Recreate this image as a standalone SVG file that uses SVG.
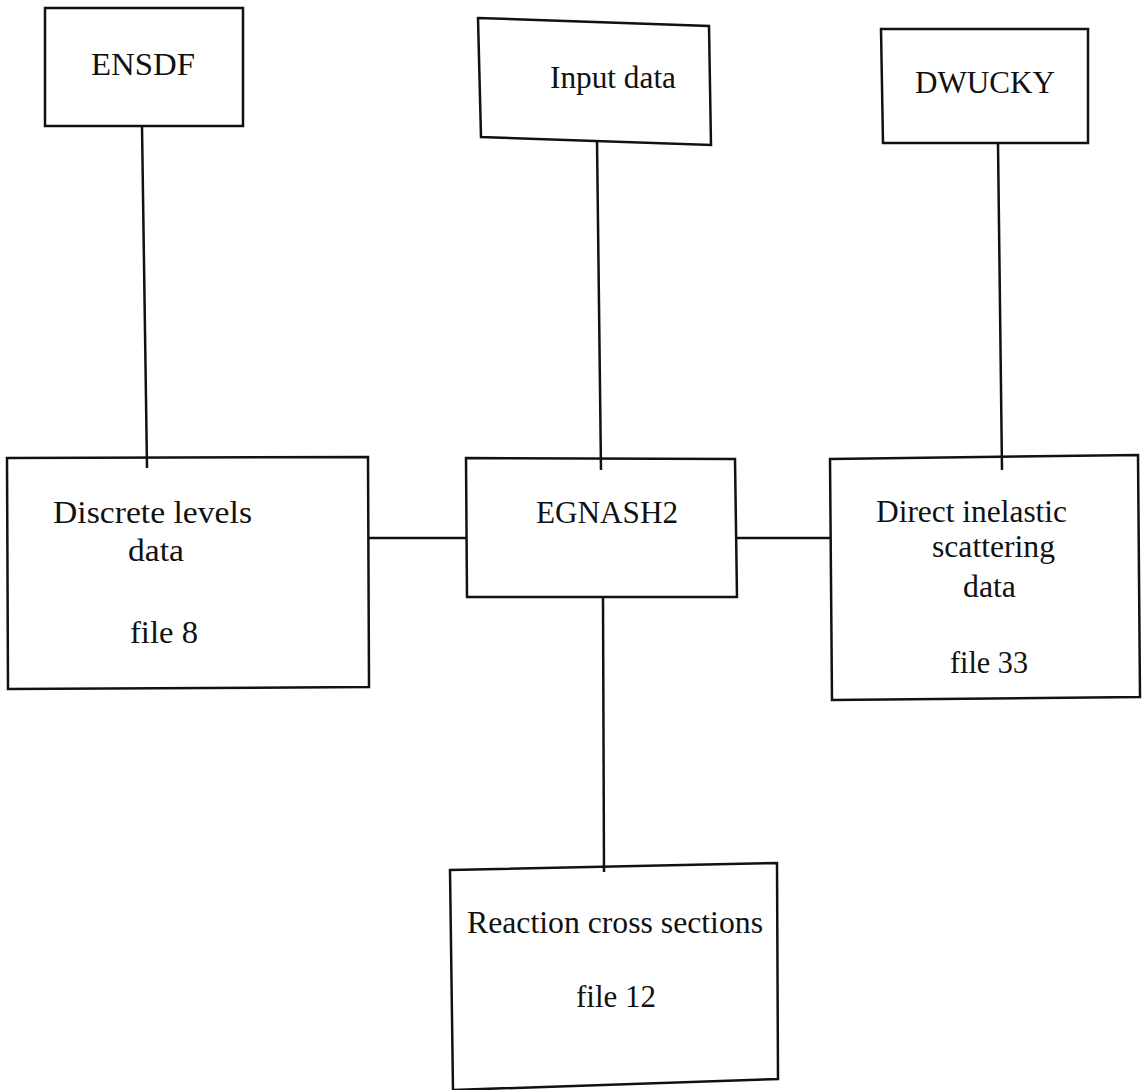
<svg xmlns="http://www.w3.org/2000/svg" width="1148" height="1090" viewBox="0 0 1148 1090">
<style>
.box{fill:none;stroke:#111;stroke-width:2.5;stroke-linejoin:miter}
.ln{fill:none;stroke:#111;stroke-width:2.5}
text{font-family:"Liberation Serif","Times New Roman",serif;font-size:31px;fill:#111}
</style>
<rect width="1148" height="1090" fill="#fff"/>
<g id="connectors">
<line class="ln" x1="142" y1="126" x2="147" y2="468"/>
<line class="ln" x1="597" y1="140" x2="601" y2="470"/>
<line class="ln" x1="998" y1="143" x2="1002" y2="470"/>
<line class="ln" x1="368" y1="538" x2="466" y2="538"/>
<line class="ln" x1="737" y1="538" x2="830" y2="538"/>
<line class="ln" x1="603" y1="597" x2="604" y2="872"/>
</g>
<g id="ensdf">
<polygon class="box" points="45,8 243,8 243,126 45,126"/>
<text x="91" y="75" textLength="104" lengthAdjust="spacingAndGlyphs">ENSDF</text>
</g>
<g id="input-data">
<polygon class="box" points="478,18 709,26 711,145 481,137"/>
<text x="550" y="88" textLength="126" lengthAdjust="spacingAndGlyphs">Input data</text>
</g>
<g id="dwucky">
<polygon class="box" points="881,29 1088,29 1088,143 883,143"/>
<text x="915" y="93" textLength="140" lengthAdjust="spacingAndGlyphs">DWUCKY</text>
</g>
<g id="discrete-levels">
<polygon class="box" points="7,458 368,457 369,687 8,689"/>
<text x="53" y="523" textLength="199" lengthAdjust="spacingAndGlyphs">Discrete levels</text>
<text x="128" y="561" textLength="56" lengthAdjust="spacingAndGlyphs">data</text>
<text x="130" y="643" textLength="68" lengthAdjust="spacingAndGlyphs">file 8</text>
</g>
<g id="egnash2">
<polygon class="box" points="466,458 735,459 737,597 467,597"/>
<text x="536" y="523" textLength="142" lengthAdjust="spacingAndGlyphs">EGNASH2</text>
</g>
<g id="direct-inelastic">
<polygon class="box" points="830,459 1138,455 1140,697 832,700"/>
<text x="876" y="522" textLength="191" lengthAdjust="spacingAndGlyphs">Direct inelastic</text>
<text x="932" y="557" textLength="123" lengthAdjust="spacingAndGlyphs">scattering</text>
<text x="963" y="597" textLength="53" lengthAdjust="spacingAndGlyphs">data</text>
<text x="950" y="673" textLength="78" lengthAdjust="spacingAndGlyphs">file 33</text>
</g>
<g id="reaction-cross-sections">
<polygon class="box" points="450,870 777,863 778,1079 453,1090"/>
<text x="467" y="933" textLength="296" lengthAdjust="spacingAndGlyphs">Reaction cross sections</text>
<text x="576" y="1007" textLength="80" lengthAdjust="spacingAndGlyphs">file 12</text>
</g>
</svg>
